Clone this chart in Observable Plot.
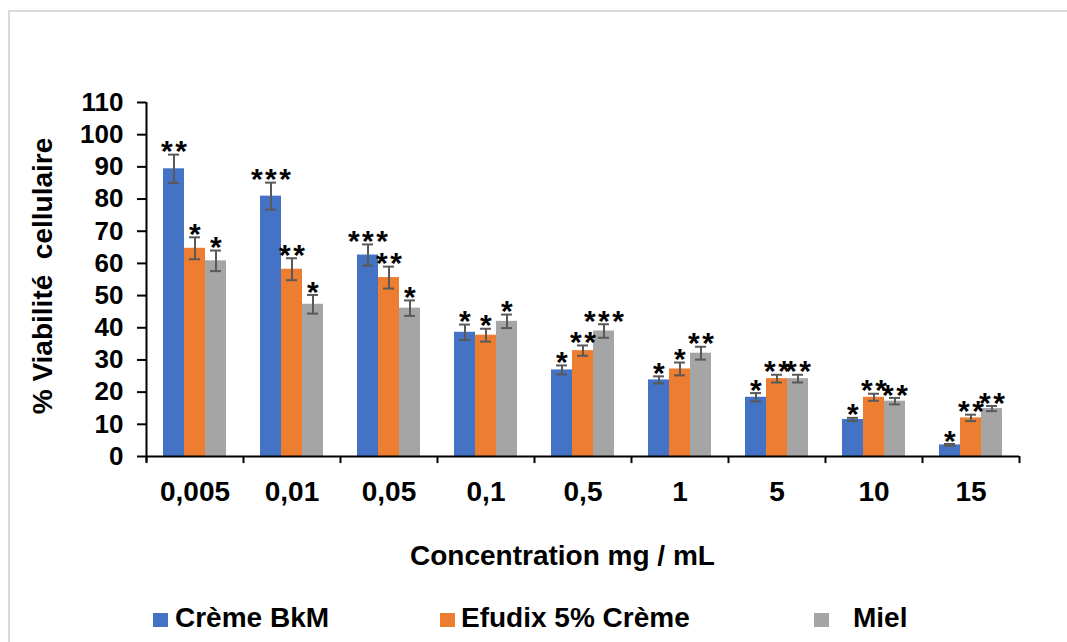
<!DOCTYPE html>
<html>
<head>
<meta charset="utf-8">
<script src="https://cdn.jsdelivr.net/npm/d3@7"></script>
<script src="https://cdn.jsdelivr.net/npm/@observablehq/plot@0.6"></script>
<style>
  html, body { margin: 0; padding: 0; background: #fff; overflow: hidden; }
  #page { position: relative; width: 1067px; height: 642px; overflow: hidden;
          font-family: "Liberation Sans", Arial, sans-serif; font-weight: bold; color: #000; }
  #frame { position: absolute; left: 8px; top: 10px; width: 1100px; height: 700px;
           border: 2px solid #d9d9d9; box-sizing: border-box; }
  #chart { position: absolute; left: 0; top: 0; }
  #chart g[aria-label="text"] text { letter-spacing: 2.5px; }
  .t { position: absolute; white-space: pre; font-size: 28px; line-height: 28px; }
  .sw { position: absolute; width: 15px; height: 14px; }
</style>
</head>
<body>
<div id="page">
  <div id="frame"></div>
  <div id="chart"></div>
  <div class="t" id="ytitle" style="left:43px; top:276px; transform: translate(-50%,-50%) rotate(-90deg);"></div>
  <div class="t" id="xtitle" style="left:410px; top:542px;"></div>
  <div id="legend"></div>
</div>
<script>
const concentrations = ["0,005", "0,01", "0,05", "0,1", "0,5", "1", "5", "10", "15"];
const series = ["Crème BkM", "Efudix 5% Crème", "Miel"];
const colors = ["#4472C4", "#ED7D31", "#A5A5A5"];

const bkm       = [89.4, 80.9, 62.6, 38.6, 26.9, 23.8, 18.4, 11.5, 3.6];
const bkmErr    = [4.4, 4.2, 3.3, 2.4, 1.4, 1.1, 1.3, 0.5, 0.3];
const efudix    = [64.7, 58.2, 55.6, 37.7, 32.9, 27.2, 24.2, 18.4, 12.0];
const efudixErr = [3.4, 3.4, 3.4, 2.0, 1.6, 2.0, 1.2, 1.1, 1.0];
const miel      = [60.8, 47.3, 46.1, 42.0, 39.0, 32.1, 24.2, 17.2, 14.9];
const mielErr   = [3.2, 2.9, 2.4, 2.1, 2.1, 2.0, 1.2, 1.0, 0.8];

const bkmStars    = ["**", "***", "***", "*", "*", "*", "*", "*", "*"];
const efudixStars = ["*", "**", "**", "*", "**", "*", "**", "**", "**"];
const mielStars   = ["*", "*", "*", "*", "***", "**", "**", "**", "**"];

const yTicks = [0, 10, 20, 30, 40, 50, 60, 70, 80, 90, 100, 110];
const yTitle = "% Viabilité  cellulaire";
const xTitle = "Concentration mg / mL";

const values = [bkm, efudix, miel];
const errs = [bkmErr, efudixErr, mielErr];
const stars = [bkmStars, efudixStars, mielStars];
const rows = [];
concentrations.forEach((c, i) => {
  series.forEach((s, j) => {
    rows.push({conc: c, series: s, value: values[j][i], err: errs[j][i], stars: stars[j][i]});
  });
});

const W = 1067, H = 520, mL = 143, mR = 45, mT = 102, mB = 64;
const pOuter = 0.79;
const groupW = (W - mL - mR) / concentrations.length;
const step = groupW / (series.length + 2 * pOuter);
const edgeOffset = pOuter * step + step / 2;
const errColor = "#595959";

const plot = Plot.plot({
  width: W, height: H,
  marginLeft: mL, marginRight: mR, marginTop: mT, marginBottom: mB,
  style: {background: "transparent", fontFamily: "'Liberation Sans', Arial, sans-serif", fontWeight: "bold", color: "#000", overflow: "visible"},
  fx: {domain: concentrations, padding: 0, axis: null, label: null},
  x: {domain: series, axis: null, paddingInner: 0, paddingOuter: pOuter, align: 0.5},
  y: {domain: [0, 110], axis: null},
  color: {domain: series, range: colors},
  marks: [
    Plot.barY(rows, {fx: "conc", x: "series", y: "value", fill: "series"}),
    Plot.ruleX(rows, {fx: "conc", x: "series", y1: d => d.value - d.err, y2: d => d.value + d.err, stroke: errColor, strokeWidth: 2}),
    Plot.tickY(rows, {fx: "conc", x: "series", y: d => d.value + d.err, stroke: errColor, strokeWidth: 2, insetLeft: 5, insetRight: 5}),
    Plot.tickY(rows, {fx: "conc", x: "series", y: d => d.value - d.err, stroke: errColor, strokeWidth: 2, insetLeft: 5, insetRight: 5}),
    Plot.text(rows, {fx: "conc", x: "series", y: d => d.value + d.err, text: "stars", fontSize: 30, fontWeight: "bold", fill: "#000", dx: 1.2, dy: -3}),
    Plot.ruleY([0], {stroke: "#000", strokeWidth: 2}),
    Plot.ruleX(concentrations, {fx: d => d, x: () => series[0], dx: -edgeOffset, y1: 0, y2: -2.2, stroke: "#000", strokeWidth: 2}),
    Plot.ruleX(concentrations.slice(-1), {fx: d => d, x: () => series[2], dx: edgeOffset, y1: 0, y2: -2.2, stroke: "#000", strokeWidth: 2}),
    Plot.ruleX(concentrations.slice(0, 1), {fx: d => d, x: () => series[0], dx: -edgeOffset, y1: -1.6, y2: 110, stroke: "#000", strokeWidth: 2}),
    Plot.axisY({ticks: yTicks, tickSize: 9, tickPadding: 14, fontSize: 26, strokeWidth: 2, stroke: "#000", fill: "#000", label: null, tickFormat: d => String(d)}),
    Plot.axisFx({anchor: "bottom", tickSize: 0, tickPadding: 25, fontSize: 28, fill: "#000", label: null})
  ]
});
document.getElementById("chart").appendChild(plot);

document.getElementById("ytitle").textContent = yTitle;
document.getElementById("xtitle").textContent = xTitle;

const legendPos = [[153, 175], [440, 461], [814, 853]];
const legend = document.getElementById("legend");
series.forEach((s, j) => {
  const sw = document.createElement("div");
  sw.className = "sw";
  sw.style.left = legendPos[j][0] + "px";
  sw.style.top = "613px";
  sw.style.background = colors[j];
  legend.appendChild(sw);
  const t = document.createElement("div");
  t.className = "t";
  t.style.left = legendPos[j][1] + "px";
  t.style.top = "604px";
  t.textContent = s;
  legend.appendChild(t);
});
</script>
</body>
</html>
